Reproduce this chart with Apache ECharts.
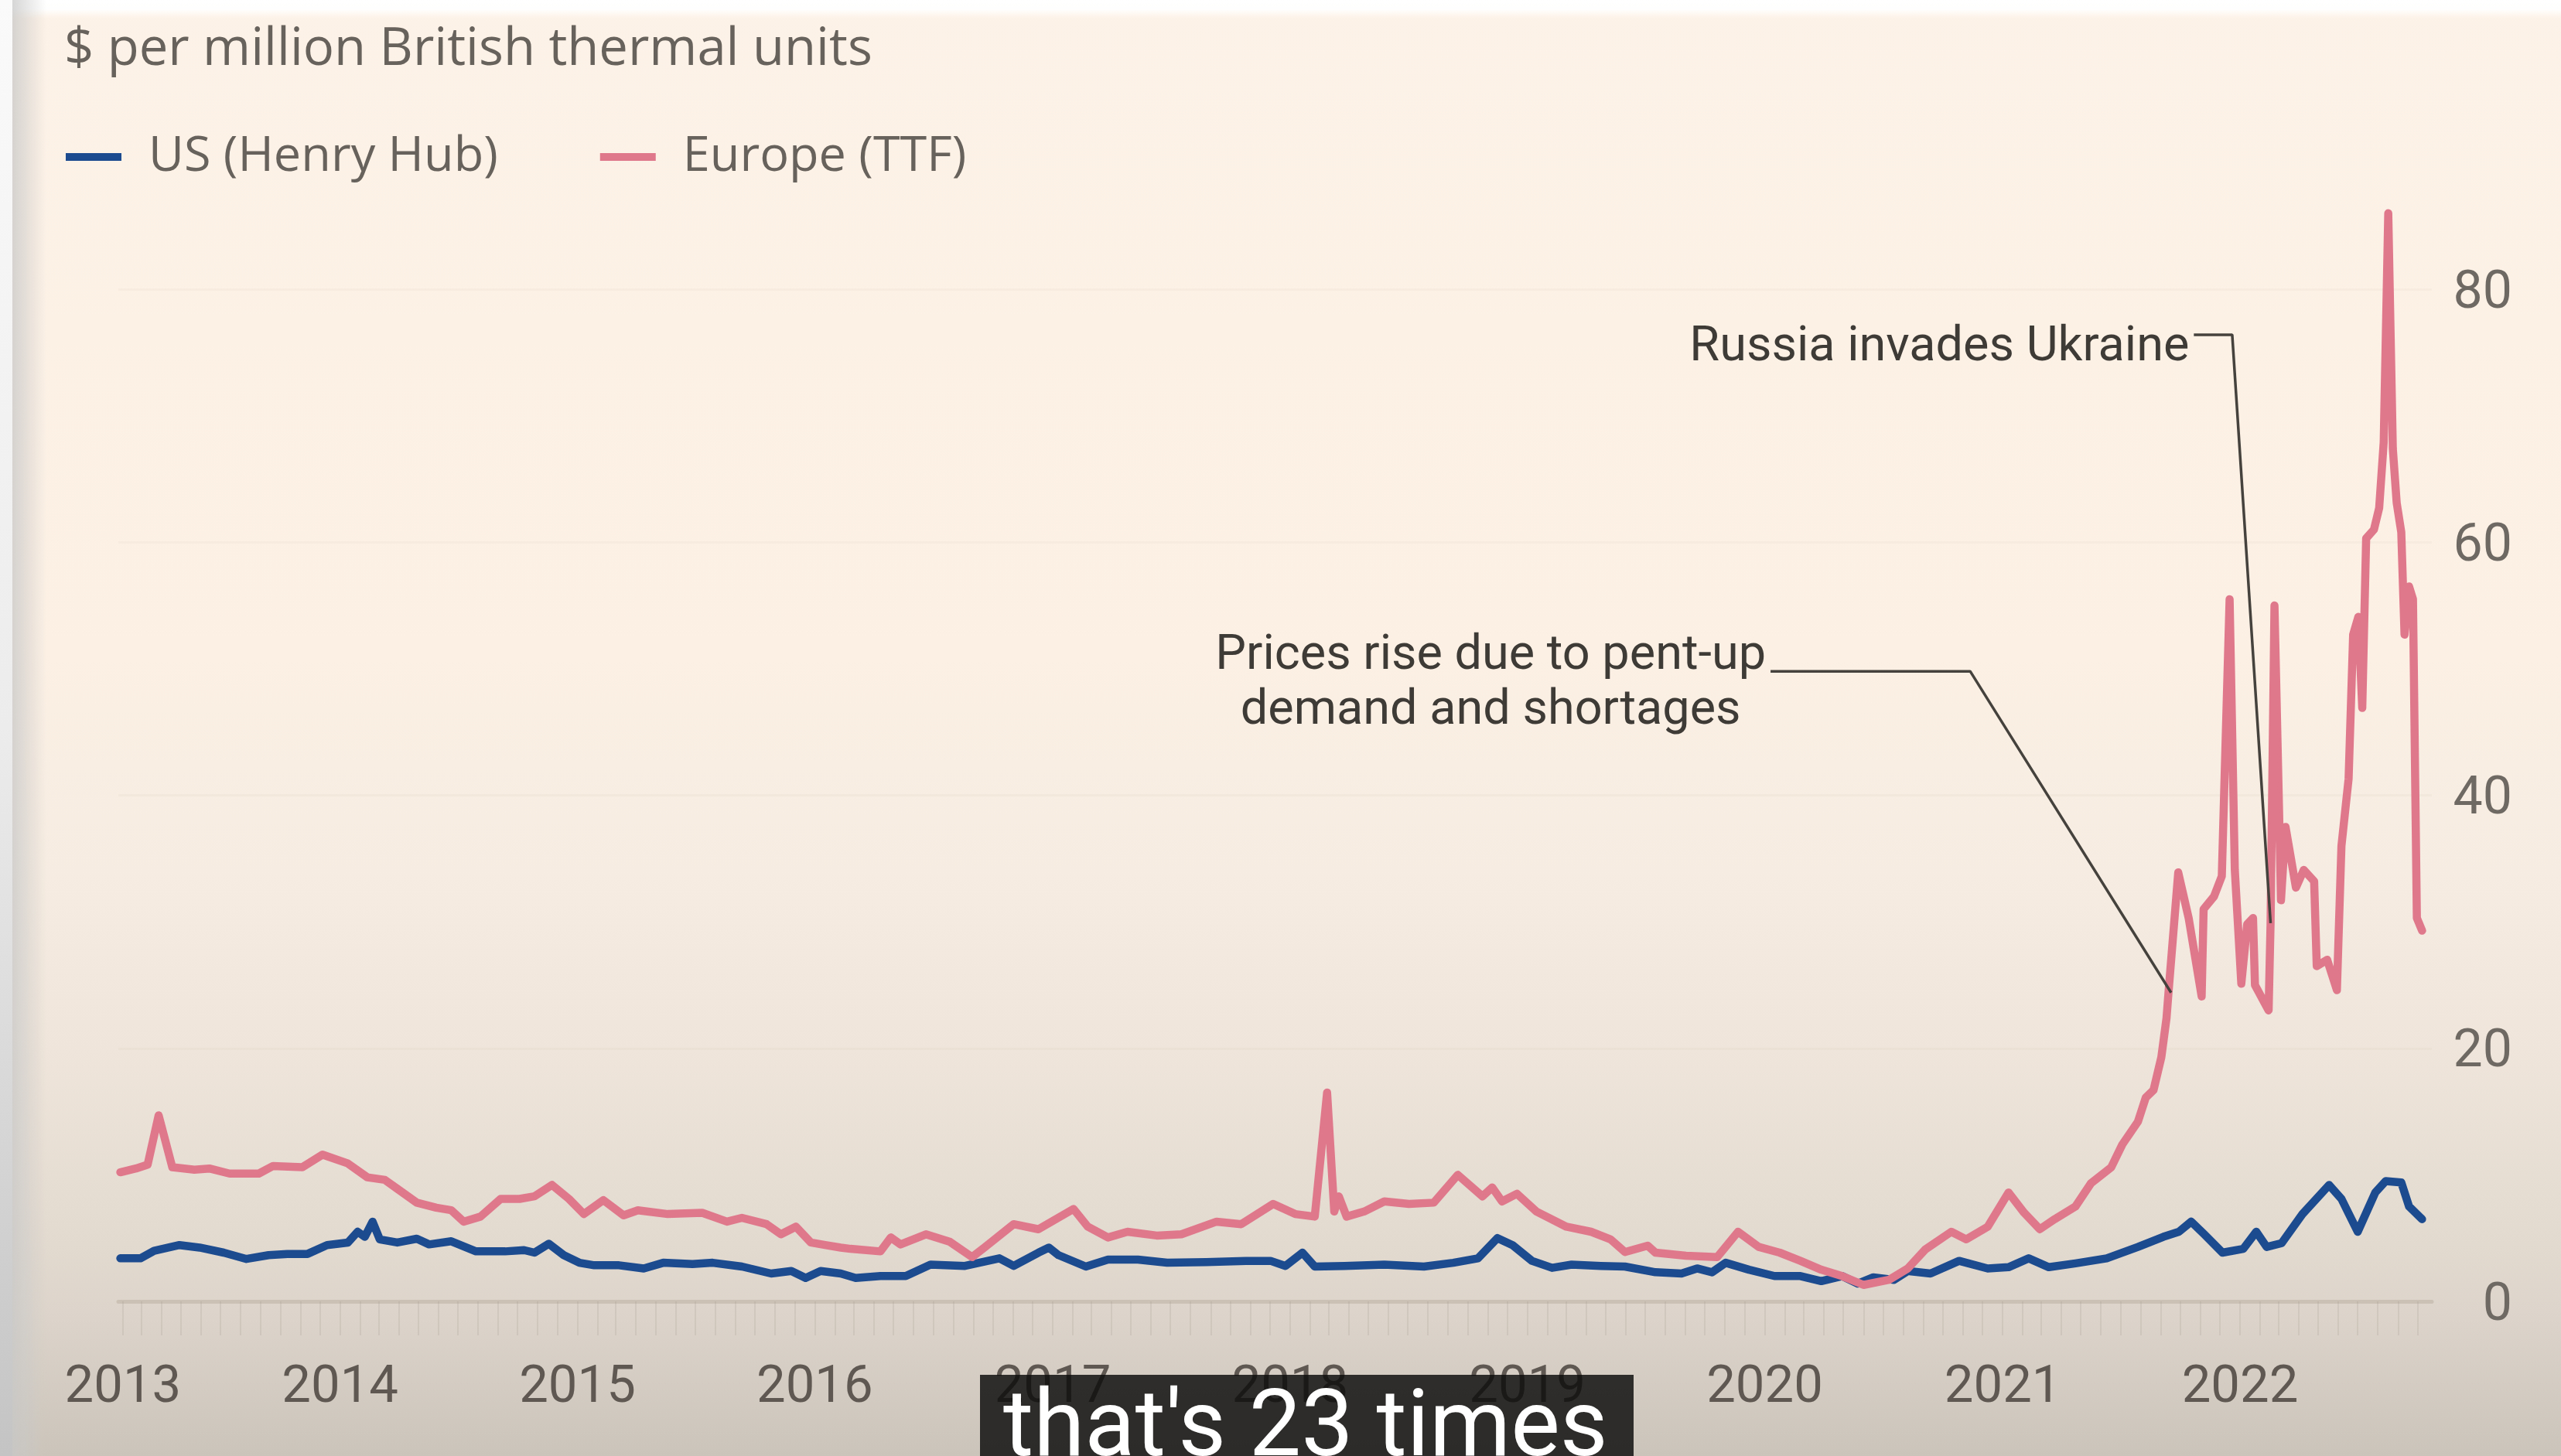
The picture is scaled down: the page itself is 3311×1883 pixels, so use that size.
<!DOCTYPE html>
<html>
<head>
<meta charset="utf-8">
<script src="https://cdn.jsdelivr.net/npm/echarts@6/dist/echarts.min.js"></script>
<style>
  html, body { margin: 0; padding: 0; background: #ffffff; }
  #chart { width: 3311px; height: 1883px; }
</style>
</head>
<body>
<div id="chart"></div>
<script>
// ---- Data: natural gas benchmark prices, $ per million British thermal units ----
const seriesNames = ['US (Henry Hub)', 'Europe (TTF)'];
const unitLabel = '$ per million British thermal units';

const usHenryHub = [
  ['2013-01-28', 3.4], ['2013-02-28', 3.4], ['2013-03-21', 4.0], ['2013-04-29', 4.45], ['2013-05-30', 4.25],
  ['2013-07-06', 3.85], ['2013-08-10', 3.35], ['2013-09-13', 3.65], ['2013-10-12', 3.75], ['2013-11-12', 3.75],
  ['2013-12-12', 4.45], ['2014-01-13', 4.65], ['2014-01-28', 5.5], ['2014-02-08', 5.1], ['2014-02-20', 6.3],
  ['2014-03-03', 4.9], ['2014-03-30', 4.65], ['2014-04-29', 4.95], ['2014-05-18', 4.5], ['2014-06-21', 4.75],
  ['2014-07-29', 3.95], ['2014-09-12', 3.95], ['2014-10-11', 4.05], ['2014-10-27', 3.85], ['2014-11-18', 4.55],
  ['2014-12-11', 3.65], ['2015-01-04', 3.05], ['2015-01-27', 2.85], ['2015-03-06', 2.85], ['2015-04-13', 2.6],
  ['2015-05-13', 3.05], ['2015-06-27', 2.95], ['2015-07-28', 3.05], ['2015-09-11', 2.75], ['2015-10-26', 2.2],
  ['2015-11-26', 2.4], ['2015-12-18', 1.85], ['2016-01-10', 2.4], ['2016-02-10', 2.2], ['2016-03-04', 1.85],
  ['2016-04-11', 2.0], ['2016-05-20', 2.0], ['2016-06-27', 2.9], ['2016-08-19', 2.8], ['2016-10-11', 3.4],
  ['2016-11-02', 2.8], ['2016-12-10', 3.85], ['2016-12-26', 4.25], ['2017-01-10', 3.65], ['2017-02-21', 2.75],
  ['2017-03-27', 3.3], ['2017-05-12', 3.3], ['2017-06-26', 3.05], ['2017-08-25', 3.1], ['2017-10-25', 3.2],
  ['2017-12-02', 3.2], ['2017-12-25', 2.8], ['2018-01-20', 3.85], ['2018-02-08', 2.75], ['2018-03-26', 2.8],
  ['2018-05-26', 2.9], ['2018-07-26', 2.75], ['2018-09-09', 3.05], ['2018-10-17', 3.4], ['2018-11-16', 5.0],
  ['2018-12-09', 4.45], ['2019-01-08', 3.2], ['2019-02-08', 2.65], ['2019-03-10', 2.9], ['2019-04-24', 2.8],
  ['2019-05-31', 2.75], ['2019-07-17', 2.3], ['2019-08-26', 2.2], ['2019-09-19', 2.6], ['2019-10-12', 2.3],
  ['2019-11-02', 3.05], ['2019-12-08', 2.5], ['2020-01-16', 2.0], ['2020-02-25', 2.0], ['2020-03-28', 1.6],
  ['2020-04-29', 2.0], ['2020-05-23', 1.4], ['2020-06-16', 1.9], ['2020-07-18', 1.7], ['2020-08-08', 2.4],
  ['2020-09-12', 2.2], ['2020-10-26', 3.2], ['2020-12-09', 2.6], ['2021-01-10', 2.7], ['2021-02-10', 3.4],
  ['2021-03-13', 2.7], ['2021-04-23', 3.0], ['2021-06-10', 3.4], ['2021-07-28', 4.3], ['2021-09-05', 5.1],
  ['2021-09-29', 5.5], ['2021-10-18', 6.3], ['2021-11-07', 5.3], ['2021-12-05', 3.85], ['2022-01-06', 4.15],
  ['2022-01-26', 5.5], ['2022-02-11', 4.3], ['2022-03-06', 4.6], ['2022-04-07', 6.9], ['2022-05-18', 9.2],
  ['2022-06-06', 8.1], ['2022-07-01', 5.5], ['2022-07-28', 8.6], ['2022-08-13', 9.5], ['2022-09-06', 9.4],
  ['2022-09-18', 7.5], ['2022-10-08', 6.5]
];

const europeTTF = [
  ['2013-01-28', 10.2], ['2013-02-21', 10.5], ['2013-03-11', 10.8], ['2013-03-28', 14.7], ['2013-04-18', 10.6],
  ['2013-05-22', 10.4], ['2013-06-14', 10.5], ['2013-07-15', 10.1], ['2013-08-29', 10.1], ['2013-09-20', 10.7],
  ['2013-11-04', 10.6], ['2013-12-05', 11.6], ['2014-01-13', 10.9], ['2014-02-12', 9.8], ['2014-03-11', 9.6],
  ['2014-03-30', 8.9], ['2014-04-29', 7.8], ['2014-05-29', 7.4], ['2014-06-21', 7.2], ['2014-07-10', 6.3],
  ['2014-08-05', 6.7], ['2014-09-05', 8.1], ['2014-10-04', 8.1], ['2014-10-27', 8.3], ['2014-11-23', 9.2],
  ['2014-12-19', 8.1], ['2015-01-11', 6.9], ['2015-02-10', 8.0], ['2015-03-13', 6.8], ['2015-04-04', 7.2],
  ['2015-05-20', 6.9], ['2015-07-12', 7.0], ['2015-08-19', 6.3], ['2015-09-11', 6.6], ['2015-10-19', 6.1],
  ['2015-11-10', 5.3], ['2015-12-03', 5.9], ['2015-12-26', 4.65], ['2016-01-17', 4.45], ['2016-02-10', 4.25],
  ['2016-02-25', 4.15], ['2016-04-11', 3.95], ['2016-04-27', 5.05], ['2016-05-12', 4.5], ['2016-06-20', 5.3],
  ['2016-07-27', 4.7], ['2016-08-30', 3.5], ['2016-09-18', 4.25], ['2016-11-02', 6.1], ['2016-12-10', 5.7],
  ['2017-02-02', 7.3], ['2017-02-24', 5.9], ['2017-03-27', 5.05], ['2017-04-26', 5.5], ['2017-06-10', 5.2],
  ['2017-07-18', 5.3], ['2017-09-10', 6.3], ['2017-10-18', 6.1], ['2017-12-06', 7.7], ['2018-01-09', 6.9],
  ['2018-02-08', 6.7], ['2018-02-27', 16.5], ['2018-03-10', 7.1], ['2018-03-17', 8.3], ['2018-03-29', 6.7],
  ['2018-04-25', 7.1], ['2018-05-26', 7.9], ['2018-07-03', 7.7], ['2018-08-10', 7.8], ['2018-09-16', 10.0],
  ['2018-10-24', 8.3], ['2018-11-08', 9.0], ['2018-11-23', 7.9], ['2018-12-16', 8.5], ['2019-01-15', 7.1],
  ['2019-03-02', 5.9], ['2019-04-09', 5.5], ['2019-05-09', 4.9], ['2019-05-31', 3.9], ['2019-07-05', 4.4],
  ['2019-07-17', 3.85], ['2019-09-02', 3.6], ['2019-10-20', 3.5], ['2019-11-21', 5.5], ['2019-12-23', 4.3],
  ['2020-01-24', 3.85], ['2020-02-25', 3.2], ['2020-03-28', 2.5], ['2020-04-29', 2.0], ['2020-06-01', 1.3],
  ['2020-07-10', 1.7], ['2020-08-08', 2.6], ['2020-09-04', 4.1], ['2020-10-14', 5.5], ['2020-11-06', 4.9],
  ['2020-12-09', 5.9], ['2021-01-10', 8.6], ['2021-02-03', 7.0], ['2021-02-27', 5.7], ['2021-03-22', 6.5],
  ['2021-04-23', 7.5], ['2021-05-17', 9.35], ['2021-06-17', 10.6], ['2021-07-04', 12.4], ['2021-07-28', 14.2],
  ['2021-08-09', 16.1], ['2021-08-21', 16.7], ['2021-09-02', 19.3], ['2021-09-10', 22.4], ['2021-09-13', 24.4],
  ['2021-09-28', 33.9], ['2021-10-14', 30.3], ['2021-11-03', 24.1], ['2021-11-06', 31.0], ['2021-11-22', 32.0],
  ['2021-12-04', 33.6], ['2021-12-16', 55.5], ['2021-12-24', 34.1], ['2022-01-03', 25.1], ['2022-01-12', 29.8],
  ['2022-01-21', 30.3], ['2022-01-24', 25.0], ['2022-02-14', 23.0], ['2022-02-17', 29.9], ['2022-02-23', 55.0],
  ['2022-03-02', 38.9], ['2022-03-05', 31.7], ['2022-03-12', 37.5], ['2022-03-28', 32.7], ['2022-04-09', 34.1],
  ['2022-04-25', 33.2], ['2022-04-29', 26.5], ['2022-05-15', 27.0], ['2022-05-30', 24.6], ['2022-06-06', 36.0],
  ['2022-06-17', 41.3], ['2022-06-24', 52.7], ['2022-07-02', 54.1], ['2022-07-08', 46.9], ['2022-07-14', 60.3],
  ['2022-07-26', 61.0], ['2022-08-03', 62.7], ['2022-08-10', 67.9], ['2022-08-17', 86.0], ['2022-08-24', 67.4],
  ['2022-08-30', 63.1], ['2022-09-06', 60.8], ['2022-09-11', 52.7], ['2022-09-18', 56.5], ['2022-09-24', 55.5],
  ['2022-09-30', 30.3], ['2022-10-08', 29.3]
];

// Year labels along the date axis (the first one sits at the start of the series)
const yearLabelDates = ['2013-02-01', '2014-01-01', '2015-01-01', '2016-01-01', '2017-01-01',
  '2018-01-01', '2019-01-01', '2020-01-01', '2021-01-01', '2022-01-01'];
const axisStart = '2013-01-25';
const axisEnd = '2022-10-23';

// Annotations, anchored in data space: [date, price]
const russiaNote = {
  lines: ['Russia invades Ukraine'],
  leader: [['2021-10-22', 76.4], ['2021-12-20', 76.4], ['2022-02-17', 29.9]]
};
const pricesNote = {
  lines: ['Prices rise due to pent-up', 'demand and shortages'],
  leader: [['2020-01-10', 49.8], ['2020-11-12', 49.8], ['2021-09-17', 24.4]]
};
const captionText = "that's 23 times";

// ---- helpers ----
function ts(s) {
  const [y, m, d] = s.split('-').map(Number);
  return new Date(y, m - 1, d).getTime();
}
const toPoints = arr => arr.map(([d, v]) => [ts(d), v]);

// monthly minor ticks below the date axis
const monthTicks = [];
for (let y = 2013; y <= 2022; y++) {
  for (let m = 0; m < 12; m++) {
    const t = new Date(y, m, 1).getTime();
    if (t >= ts(axisStart) && t <= ts(axisEnd)) monthTicks.push(t);
  }
}

const FONT = 'Roboto, "Open Sans", sans-serif';
const WIDE_FONT = '"Open Sans", Roboto, sans-serif';
const W = 3311, H = 1883;

const chart = echarts.init(document.getElementById('chart'), null, { renderer: 'canvas', width: W, height: H });

const leaderSeries = (note, id) => ({
  id: id,
  type: 'line',
  data: toPoints(note.leader),
  symbol: 'none',
  silent: true,
  clip: false,
  z: 6,
  lineStyle: { color: '#45423d', width: 3.5 },
  tooltip: { show: false }
});

chart.setOption({
  animation: false,
  backgroundColor: 'transparent',
  title: {
    text: unitLabel,
    left: 78,
    top: 20,
    textStyle: { fontFamily: WIDE_FONT, fontSize: 67, fontWeight: 'normal', color: '#68625c', lineHeight: 80 }
  },
  legend: {
    data: seriesNames,
    left: 80,
    top: 160,
    icon: 'rect',
    itemWidth: 72,
    itemHeight: 10,
    itemGap: 132,
    selectedMode: false,
    textStyle: { fontFamily: WIDE_FONT, fontSize: 63, color: '#68625c', lineHeight: 76, padding: [0, 0, 0, 30] }
  },
  grid: { left: 153, right: 167, top: 374, bottom: 200, containLabel: false },
  xAxis: {
    // dates as millisecond timestamps on a linear axis
    type: 'value',
    min: ts(axisStart),
    max: ts(axisEnd),
    axisLine: { show: true, lineStyle: { color: '#cbc1b5', width: 5 } },
    axisTick: {
      show: true,
      customValues: monthTicks,
      length: 44,
      lineStyle: { color: 'rgba(160,150,140,0.2)', width: 2 }
    },
    axisLabel: {
      customValues: yearLabelDates.map(ts),
      formatter: v => String(new Date(v).getFullYear()),
      fontFamily: FONT,
      fontSize: 67,
      lineHeight: 67,
      color: '#5f5852',
      margin: 80
    },
    splitLine: { show: false }
  },
  yAxis: {
    type: 'value',
    position: 'right',
    min: 0,
    max: 80,
    interval: 20,
    axisLine: { show: false },
    axisTick: { show: false },
    axisLabel: {
      fontFamily: FONT, fontSize: 68, color: '#6f6963', margin: 104, align: 'right',
      verticalAlign: 'top', lineHeight: 13
    },
    splitLine: { show: true, lineStyle: { color: 'rgba(215,200,185,0.12)', width: 3 } }
  },
  series: [
    {
      name: seriesNames[0],
      type: 'line',
      data: toPoints(usHenryHub),
      symbol: 'none',
      clip: false,
      z: 3,
      color: '#1d4b8f',
      lineStyle: { color: '#1d4b8f', width: 10.5, join: 'round', cap: 'round' }
    },
    {
      name: seriesNames[1],
      type: 'line',
      data: toPoints(europeTTF),
      symbol: 'none',
      clip: false,
      z: 4,
      color: '#e0788c',
      lineStyle: { color: '#e0788c', width: 10.5, join: 'round', cap: 'round' }
    },
    leaderSeries(russiaNote, 'russiaLeader'),
    leaderSeries(pricesNote, 'pricesLeader')
  ],
  graphic: [
    {
      id: 'bg', type: 'rect', z: -100, silent: true,
      shape: { x: 0, y: 0, width: W, height: H },
      style: {
        fill: new echarts.graphic.LinearGradient(0, 0, 0, 1, [
          { offset: 0, color: '#fdf2e7' },
          { offset: 0.45, color: '#fcf0e4' },
          { offset: 0.6, color: '#f6ece1' },
          { offset: 0.72, color: '#efe5da' },
          { offset: 0.82, color: '#e6ddd2' },
          { offset: 0.9, color: '#ddd5cb' },
          { offset: 1, color: '#cbc4ba' }
        ])
      }
    },
    {
      id: 'topEdge', type: 'rect', z: -99, silent: true,
      shape: { x: 0, y: 0, width: W, height: 24 },
      style: {
        fill: new echarts.graphic.LinearGradient(0, 0, 0, 1, [
          { offset: 0, color: 'rgba(255,255,255,1)' },
          { offset: 0.5, color: 'rgba(255,255,255,0.95)' },
          { offset: 1, color: 'rgba(255,255,255,0)' }
        ])
      }
    },
    {
      id: 'leftStrip', type: 'rect', z: -98, silent: true,
      shape: { x: 0, y: 0, width: 16, height: H },
      style: {
        fill: new echarts.graphic.LinearGradient(0, 0, 0, 1, [
          { offset: 0, color: '#fafafa' },
          { offset: 0.5, color: '#ececec' },
          { offset: 1, color: '#c4c4c4' }
        ])
      }
    },
    {
      id: 'leftShade', type: 'rect', z: -98, silent: true,
      shape: { x: 16, y: 0, width: 44, height: H },
      style: {
        fill: new echarts.graphic.LinearGradient(0, 0, 1, 0, [
          { offset: 0, color: 'rgba(200,200,200,0.75)' },
          { offset: 1, color: 'rgba(200,200,200,0)' }
        ])
      }
    }
  ]
});

// ---- annotation texts, placed from their data anchors ----
const measure = document.createElement('canvas').getContext('2d');
const NOTE_SIZE = 63;
measure.font = NOTE_SIZE + 'px Roboto';

const toPx = p => chart.convertToPixel({ gridIndex: 0 }, [ts(p[0]), p[1]]);
const rStart = toPx(russiaNote.leader[0]);
const pStart = toPx(pricesNote.leader[0]);
const p1w = measure.measureText(pricesNote.lines[0]).width;
const pCenter = pStart[0] - 6 - p1w / 2;

const noteStyle = { font: NOTE_SIZE + 'px ' + FONT, fill: '#3e3b37' };

chart.setOption({
  graphic: [
    {
      id: 'russiaText', type: 'text', z: 10, silent: true,
      x: rStart[0] - 6, y: rStart[1] + 17,
      style: Object.assign({ text: russiaNote.lines[0], align: 'right', verticalAlign: 'middle' }, noteStyle)
    },
    {
      id: 'pricesText1', type: 'text', z: 10, silent: true,
      x: pCenter, y: pStart[1] - 19,
      style: Object.assign({ text: pricesNote.lines[0], align: 'center', verticalAlign: 'middle' }, noteStyle)
    },
    {
      id: 'pricesText2', type: 'text', z: 10, silent: true,
      x: pCenter, y: pStart[1] + 52,
      style: Object.assign({ text: pricesNote.lines[1], align: 'center', verticalAlign: 'middle' }, noteStyle)
    },
    {
      id: 'captionBox', type: 'rect', z: 50, silent: true,
      shape: { x: 1267, y: 1778, width: 845, height: 120 },
      style: { fill: 'rgba(12,12,12,0.83)' }
    },
    {
      id: 'captionText', type: 'text', z: 51, silent: true,
      x: 1297, y: 1852,
      style: { text: captionText, font: '120px Roboto, sans-serif', fill: '#ffffff', align: 'left', verticalAlign: 'middle' }
    }
  ]
});
</script>
</body>
</html>
